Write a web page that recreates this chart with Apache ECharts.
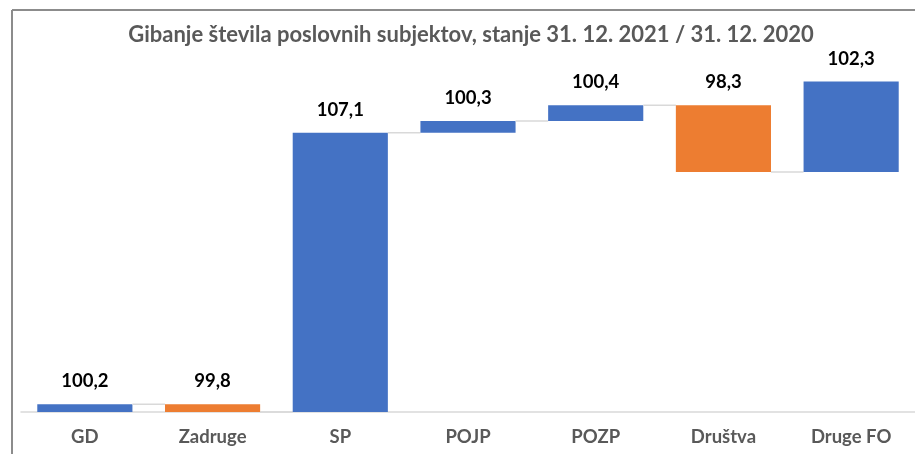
<!DOCTYPE html>
<html><head><meta charset="utf-8">
<script src="https://cdn.jsdelivr.net/npm/echarts@6/dist/echarts.min.js"></script>
<style>html,body{margin:0;padding:0;background:#fff}#c{width:915px;height:454px}</style>
</head><body><div id="c"></div>
<script>
const titleText = 'Gibanje števila poslovnih subjektov, stanje 31. 12. 2021 / 31. 12. 2020';
const categories = ['GD', 'Zadruge', 'SP', 'POJP', 'POZP', 'Društva', 'Druge FO'];
const indexValues = [100.2, 99.8, 107.1, 100.3, 100.4, 98.3, 102.3];
const deltas = [0.2, -0.2, 7.1, 0.3, 0.4, -1.7, 2.3];

const BLUE = '#4472C4', ORANGE = '#ED7D31';
const rows = [];
let cum = 0;
for (let i = 0; i < categories.length; i++) {
  const start = cum; cum = +(cum + deltas[i]).toFixed(4);
  rows.push([i, start, cum, indexValues[i], i < categories.length - 1 ? 1 : 0]);
}
const fmt = v => v.toFixed(1).replace('.', ',');

const chart = echarts.init(document.getElementById('c'), null, {renderer: 'canvas'});
chart.setOption({
  animation: false,
  title: {
    text: titleText, left: 466, textAlign: 'center', top: 19,
    textStyle: {fontFamily: 'Lato', fontWeight: 'bold', fontSize: 22, color: '#595959'}
  },
  grid: {left: 21, right: 0, top: 58, bottom: 42},
  xAxis: {
    type: 'category', data: categories,
    axisLine: {lineStyle: {color: '#D9D9D9', width: 1.5}},
    axisTick: {show: false},
    axisLabel: {fontFamily: 'Lato', fontWeight: 'bold', fontSize: 18.5, color: '#595959', margin: 16}
  },
  yAxis: {type: 'value', min: 0, max: 9, show: false, splitLine: {show: false}},
  graphic: [
    {type: 'line', shape: {x1: 12, y1: 10, x2: 915, y2: 10}, style: {stroke: '#8C8C8C', lineWidth: 2}},
    {type: 'line', shape: {x1: 12, y1: 10, x2: 12, y2: 454}, style: {stroke: '#8C8C8C', lineWidth: 2}}
  ],
  series: [{
    type: 'custom',
    data: rows,
    encode: {x: 0, y: [1, 2]},
    renderItem: function (params, api) {
      const i = api.value(0), s = api.value(1), e = api.value(2), idx = api.value(3), hasNext = api.value(4);
      const p0 = api.coord([i, s]), p1 = api.coord([i, e]);
      const bw = api.size([1, 0])[0] * 0.745;
      const top = Math.min(p0[1], p1[1]), h = Math.abs(p0[1] - p1[1]);
      const children = [{
        type: 'rect',
        shape: {x: p0[0] - bw / 2, y: top, width: bw, height: h},
        style: {fill: e >= s ? BLUE : ORANGE}
      }, {
        type: 'text',
        style: {
          text: fmt(idx), x: p0[0], y: top - 23, align: 'center', verticalAlign: 'middle',
          fontFamily: 'Lato', fontWeight: 'bold', fontSize: 18.5, fill: '#000'
        }
      }];
      if (hasNext) {
        const n = api.coord([i + 1, e]);
        children.push({
          type: 'line',
          shape: {x1: p1[0] + bw / 2, y1: p1[1], x2: n[0] - bw / 2, y2: p1[1]},
          style: {stroke: '#D9D9D9', lineWidth: 1.5}
        });
      }
      return {type: 'group', children: children};
    }
  }]
});
</script></body></html>
